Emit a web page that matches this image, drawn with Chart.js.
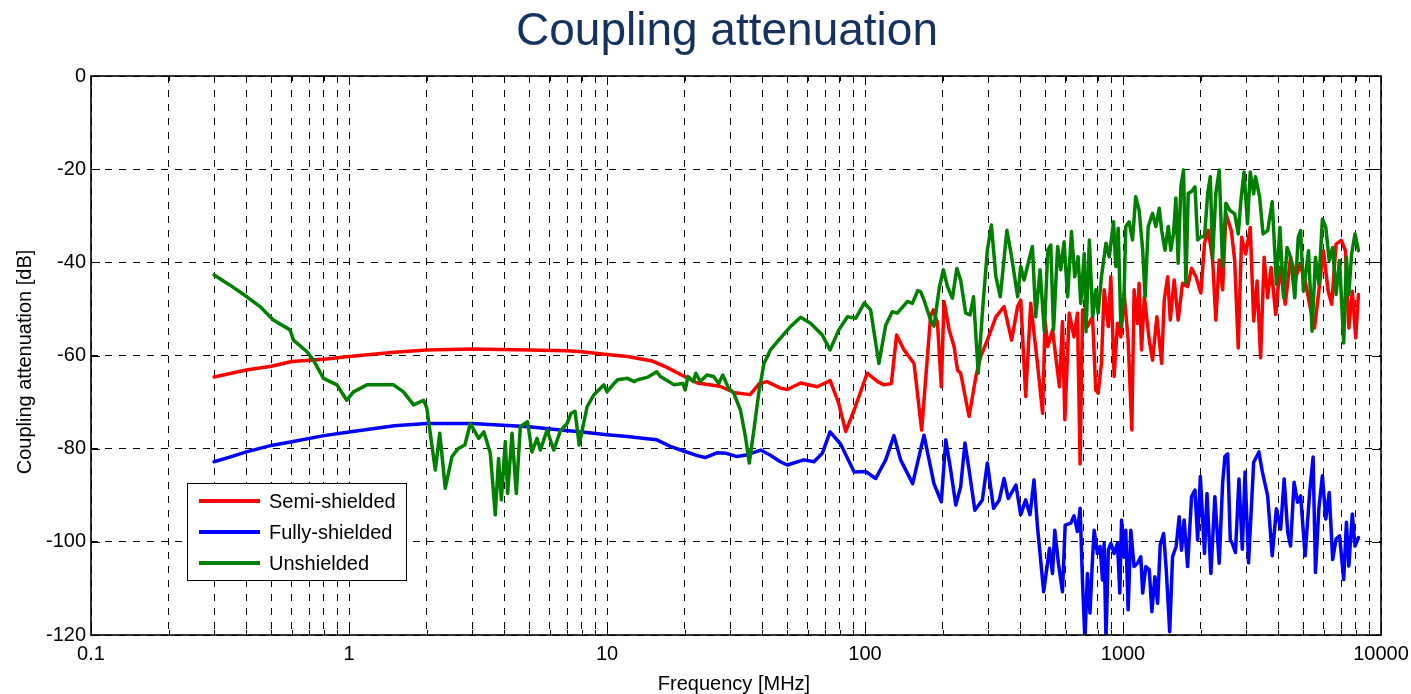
<!DOCTYPE html>
<html>
<head>
<meta charset="utf-8">
<script src="https://cdn.jsdelivr.net/npm/chart.js@4.4.0/dist/chart.umd.min.js"></script>
<style>
html,body{margin:0;padding:0;background:#fff;}
#wrap{width:1411px;height:694px;position:relative;}
</style>
</head>
<body>
<div id="wrap"><canvas id="c" width="1411" height="694"></canvas></div>
<script>
const titleText = 'Coupling attenuation';
const xAxisTitle = 'Frequency [MHz]';
const yAxisTitle = 'Coupling attenuation [dB]';
const seriesNames = ['Semi-shielded', 'Fully-shielded', 'Unshielded'];
const seriesColors = ['#ff0000', '#0000ff', '#008000'];

const xTickValues = [0.1, 1, 10, 100, 1000, 10000];
const xTickLabels = ['0.1', '1', '10', '100', '1000', '10000'];
const yTickValues = [0, -20, -40, -60, -80, -100, -120];
const yTickLabels = ['0', '-20', '-40', '-60', '-80', '-100', '-120'];

// Semi-shielded (red)
const semiFreq = [0.3,0.4,0.5,0.6,0.8,1,1.5,2,3,5, 7,8,10,12,15,17,19.8,22.4,27.4,31.3, 35.9,39,41.7,47,50,56.3,65.3,73.3,79,84.2, 90.8,102,112,118.4,126.5,132.6,141.7,154.9,165.8,179.6, 184,191,197.6,202.4,212,221.5,228.3,234.8,253.2,269, 280.8,298,321.7,346,370,390.5,401.4,419.6,438.9,466, 488,498.8,511,533,567,582.6,595,619,646,666, 682,697,728,762,784,801,825,845,877,897, 924,952,981,1010,1047,1082,1104,1138,1155,1180, 1210,1264,1302,1353,1412,1445,1490,1525,1579,1636, 1701,1780,1844,1918,2004,2070,2141,2225,2290,2360, 2433,2505,2629,2710,2797,2882,2990,3113,3210,3310, 3415,3525,3636,3750,3907,4057,4256,4461,4677,4850, 5081,5318,5523,5742,5980,6242,6439,6697,7017,7280, 7503,7742,7980,8178];
const semiDb = [-64.6,-63.1,-62.3,-61.3,-60.8,-60.2,-59.3,-58.8,-58.6,-58.8, -59.0,-59.2,-59.8,-60.2,-61.2,-62.5,-64.4,-65.9,-66.6,-68.0, -68.4,-66.0,-65.6,-67.0,-67.3,-65.9,-66.7,-65.4,-70.2,-76.3, -71.7,-63.8,-65.6,-66.3,-66.0,-55.6,-58.8,-61.7,-76.0,-51.5, -50.2,-53.0,-66.7,-48.4,-54.5,-58.1,-63.1,-63.8,-73.1,-64.5, -60.2,-56.7,-51.7,-49.5,-56.7,-49.5,-48.1,-68.8,-48.8,-61.7, -72.4,-52.4,-58.1,-54.5,-66.7,-52.7,-73.8,-50.9,-56.0,-50.9, -83.3,-50.2,-53.8,-51.7,-67.4,-68.1,-61.7,-45.9,-53.8,-43.1, -64.5,-53.1,-56.0,-46.6,-56.7,-76.0,-45.9,-53.1,-44.5,-58.8, -47.4,-56.7,-61.0,-51.7,-61.7,-48.1,-43.1,-52.4,-43.8,-52.4, -44.5,-45.2,-41.3,-43.1,-46.6,-35.9,-33.1,-39.5,-52.4,-39.5, -45.9,-29.5,-33.2,-39.6,-58.4,-34.6,-38.2,-32.5,-52.6,-44.0, -60.5,-38.9,-47.6,-41.1,-51.2,-41.1,-49.0,-38.9,-43.3,-40.4, -44.0,-49.7,-54.1,-46.2,-37.5,-46.2,-49.0,-36.1,-35.3,-37.5, -54.1,-46.2,-56.2,-46.9];

// Fully-shielded (blue)
const fullFreq = [0.3,0.35,0.4,0.5,0.6,0.8,1,1.5,2,3, 5,6.6,8,10,12,14,15.6,17.6,19.8,22.4, 24,26.7,29,31.9,35,39.4,43,47,50,57.9, 63.4,68.3,73.2,80.4,90.8,100.5,110,120.3,129.5,137.4, 153,169.3,185,197.6,205.6,214.8,224.9,234.8,244,253.2, 266.6,285,298,315,331.5,346,359,384.6,401.4,419.6, 436,452,466,492.5,519,533,544,562,582.6,597, 627.5,646,666,682,697,712,728,745,759,773, 796,815,833,845,859,877,897,924,952,972, 987,1010,1025,1047,1072,1104,1138,1172,1192,1226, 1264,1294,1329,1362,1394,1437,1471,1517,1556,1607, 1651,1686,1726,1780,1844,1901,1947,1994,2070,2116, 2191,2270,2360,2433,2483,2545,2605,2646,2728,2815, 2900,2972,3066,3210,3364,3468,3636,3788,3932,4083, 4213,4351,4461,4604,4748,4881,5081,5290,5455,5572, 5742,5927,6110,6299,6497,6697,6907,7169,7345,7503, 7742,7930,8178];
const fullDb = [-82.8,-81.7,-80.7,-79.3,-78.5,-77.2,-76.4,-75.1,-74.6,-74.6, -75.3,-76.0,-76.4,-77.0,-77.4,-77.8,-78.1,-79.5,-80.5,-81.5, -81.9,-80.9,-81.0,-81.7,-81.3,-80.3,-81.4,-82.8,-83.5,-82.4, -82.8,-81.0,-76.4,-79.0,-85.0,-84.9,-86.4,-82.4,-77.2,-82.4, -87.5,-77.1,-87.5,-91.4,-78.1,-84.6,-92.1,-88.2,-78.8,-84.6, -93.2,-91.0,-83.1,-92.8,-91.0,-86.4,-90.7,-87.8,-94.2,-91.0, -94.2,-86.7,-96.7,-110.7,-101.4,-106.8,-97.5,-104.6,-110.7,-96.4, -96.0,-94.4,-97.8,-92.8,-108.9,-121,-106.8,-115.3,-105.3,-97.5, -102.5,-101.0,-108.2,-100.3,-121,-101.8,-100.3,-102.5,-100.3,-111.0, -95.3,-103.2,-97.5,-114.6,-97.5,-105.3,-104.6,-103.2,-111.0,-105.3, -106.0,-115.0,-107.5,-113.2,-100.7,-98.2,-106.0,-119.3,-103.2,-101.0, -94.6,-101.8,-95.3,-105.3,-90.3,-88.9,-99.6,-86.0,-102.5,-89.6, -106.8,-90.3,-104.6,-87.4,-81.7,-81.1,-99.6,-100.2,-102.3,-86.5, -101.6,-85.0,-104.5,-82.9,-80.7,-85.0,-90.1,-103.0,-92.9,-97.3, -86.5,-98.0,-100.9,-87.2,-91.5,-90.1,-103.0,-89.4,-81.8,-106.6, -92.9,-85.8,-95.1,-89.4,-103.8,-99.4,-98.7,-108.1,-95.8,-105.2, -94.0,-100.9,-99.1];

// Unshielded (green)
const unshFreq = [0.3,0.346,0.402,0.452,0.509,0.591,0.609,0.687,0.728,0.796, 0.898,0.98,1.041,1.173,1.488,1.627,1.779,1.946,2.003,2.16, 2.248,2.361,2.507,2.659,2.814,2.953,3.18,3.334,3.53,3.689, 3.8,3.894,4.036,4.12,4.284,4.452,4.613,4.92,5.12,5.357, 5.517,5.857,6.214,6.596,7.003,7.26,7.52,7.8,8.373,8.88, 9.29,9.72,10.0,10.65,11.0,12.0,12.75,13.15,14.3,15.6, 16.1,18.2,19.7,20.1,20.6,21.6,22.1,23.0,24.4,25.9, 27.1,28.1,29.6,31.0,32.9,34.4,35.6,37.1,38.8,40.6, 43.0,46.3,51.4,56.3,61.5,68.3,73.2,79.2,85.5,92.1, 99.5,105.1,113.2,120.3,127.6,133.4,146.2,152.6,160,164.3, 169.3,179.6,185.1,194,201.2,208.8,218.2,226.9,234.8,245.6, 255.5,263.4,274.7,285,298,309,321.7,334.5,354.8,370, 390.5,401.4,413.4,426,445.5,459,477,495.6,511,524.8, 538,558,573.8,591,610,631.5,650,670,686,707.5, 719,740.6,763,784.5,800.7,825,859,885,919,938, 958,981,1010,1025,1056,1089,1120,1155,1192,1218, 1252,1302,1341,1382,1412,1454,1498,1532,1570,1603, 1636,1676,1716,1753,1790,1844,1901,1947,2004,2070, 2130,2180,2225,2290,2360,2433,2505,2590,2710,2797, 2865,2945,3038,3113,3210,3262,3385,3490,3636,3788, 3932,4057,4190,4323,4461,4634,4778,4881,5005,5237, 5406,5572,5742,5927,6110,6299,6497,6697,6907,7169, 7345,7503,7693,7930,8178];
const unshDb = [-42.7,-44.9,-47.4,-49.5,-52.4,-54.5,-56.7,-59.2,-61.0,-64.9, -66.3,-69.6,-67.8,-66.3,-66.3,-67.8,-70.6,-69.6,-71.3,-84.6, -76.7,-88.5,-81.7,-79.9,-79.2,-74.6,-77.8,-76.4,-81.0,-94.2, -82.1,-91.0,-78.5,-89.6,-76.7,-89.6,-75.3,-74.2,-80.7,-77.8, -80.3,-76.0,-80.3,-76.2,-74.6,-72.4,-72.0,-79.2,-71.0,-68.5, -67.4,-66.3,-67.8,-66.0,-65.2,-64.9,-65.6,-65.2,-64.7,-63.5, -64.5,-66.3,-66.0,-67.4,-64.5,-65.6,-63.8,-65.6,-64.2,-64.5, -66.0,-64.2,-67.0,-68.1,-71.7,-77.4,-83.1,-76.0,-67.8,-61.7, -58.8,-56.7,-53.8,-51.8,-53.1,-55.6,-58.8,-54.5,-51.7,-52.0, -48.7,-50.2,-61.7,-53.5,-50.6,-50.9,-48.4,-48.8,-46.1,-46.3, -48.1,-52.4,-53.7,-45.5,-41.6,-45.2,-47.7,-41.3,-43.8,-50.9, -51.3,-47.4,-63.8,-50.9,-37.4,-32.0,-43.1,-47.4,-33.1,-38.8, -47.4,-40.9,-43.8,-40.9,-36.6,-51.7,-41.6,-54.9,-37.4,-36.3, -54.5,-36.6,-41.6,-35.6,-47.4,-33.4,-43.1,-38.8,-48.8,-38.1, -54.9,-35.2,-51.7,-45.9,-50.9,-43.1,-35.9,-38.8,-31.3,-40.9, -32.7,-53.8,-46.6,-32.3,-31.3,-35.2,-25.9,-28.8,-37.4,-47.4, -32.3,-29.5,-32.3,-28.4,-33.1,-37.4,-32.3,-37.4,-33.8,-26.2, -40.2,-23.8,-20.2,-44.5,-25.2,-24.8,-23.8,-35.2,-34.5,-34.5, -25.2,-21.6,-39.1,-25.2,-20.2,-40.9,-27.3,-28.8,-29.6,-33.9, -26.7,-20.6,-31.7,-20.6,-25.3,-21.6,-26.0,-33.9,-33.2,-27.0, -44.7,-32.5,-47.6,-36.8,-38.9,-47.6,-34.6,-33.2,-46.2,-37.5, -54.8,-38.9,-44.7,-30.7,-32.5,-39.6,-36.8,-46.9,-39.6,-57.3, -38.9,-46.9,-38.2,-33.9,-37.5];

const FONT = '"Liberation Sans", Arial, Helvetica, sans-serif';

function toPoints(fr, db) {
  const n = Math.min(fr.length, db.length);
  const out = [];
  for (let i = 0; i < n; i++) out.push({x: fr[i], y: db[i]});
  return out;
}

// minor + major grid positions of the log axis (1..9 x 10^k)
function logGridValues(minV, maxV) {
  const vals = [];
  for (let e = Math.round(Math.log10(minV)); e < Math.round(Math.log10(maxV)); e++) {
    for (let m = 1; m < 10; m++) vals.push(parseFloat((m * Math.pow(10, e)).toPrecision(6)));
  }
  vals.push(maxV);
  return vals;
}
const xGridValues = logGridValues(xTickValues[0], xTickValues[xTickValues.length - 1]);
function isMajorX(v) { return xTickValues.some(t => Math.abs(t - v) / t < 1e-6); }

const decor = {
  id: 'decor',
  afterDraw(chart) {
    const {ctx, chartArea: a} = chart;
    const xs = chart.scales.x, ys = chart.scales.y;
    ctx.save();
    ctx.setLineDash([]);
    ctx.strokeStyle = '#000';
    ctx.lineWidth = 1;
    ctx.beginPath();
    ys.ticks.forEach(t => {
      const y = Math.round(ys.getPixelForValue(t.value)) + 0.5;
      ctx.moveTo(a.left, y); ctx.lineTo(a.left + 9, y);
      ctx.moveTo(a.right - 9, y); ctx.lineTo(a.right, y);
    });
    xs.ticks.forEach(t => {
      const x = Math.round(xs.getPixelForValue(t.value)) + 0.5;
      const len = isMajorX(t.value) ? 9 : 5;
      ctx.moveTo(x, a.bottom); ctx.lineTo(x, a.bottom - len);
      ctx.moveTo(x, a.top); ctx.lineTo(x, a.top + len);
    });
    ctx.stroke();
    // frame
    ctx.lineWidth = 1.6;
    ctx.strokeRect(a.left, a.top, a.right - a.left, a.bottom - a.top);

    // main title
    ctx.fillStyle = '#13325f';
    ctx.font = '46px ' + FONT;
    ctx.textAlign = 'center';
    ctx.textBaseline = 'alphabetic';
    ctx.fillText(titleText, 727, 45);

    // axis titles
    ctx.fillStyle = '#000';
    ctx.font = '20px ' + FONT;
    ctx.fillText(xAxisTitle, 734, 690);
    ctx.save();
    ctx.translate(25, 362);
    ctx.rotate(-Math.PI / 2);
    ctx.textBaseline = 'middle';
    ctx.fillText(yAxisTitle, 0, 0);
    ctx.restore();

    // legend
    const lx = 187.5, ly = 483.5, lw = 219, lh = 97;
    ctx.fillStyle = '#fff';
    ctx.fillRect(lx, ly, lw, lh);
    ctx.lineWidth = 1;
    ctx.strokeStyle = '#000';
    ctx.strokeRect(lx, ly, lw, lh);
    const rows = [501, 532, 563];
    chart.data.datasets.forEach((ds, i) => {
      ctx.beginPath();
      ctx.strokeStyle = ds.borderColor;
      ctx.lineWidth = 4;
      ctx.moveTo(199, rows[i]); ctx.lineTo(260, rows[i]);
      ctx.stroke();
      ctx.fillStyle = '#000';
      ctx.font = '20px ' + FONT;
      ctx.textAlign = 'left';
      ctx.textBaseline = 'middle';
      ctx.fillText(ds.label, 269, rows[i] + 1);
    });
    ctx.restore();
  }
};

const seriesFreq = [semiFreq, fullFreq, unshFreq];
const seriesDb = [semiDb, fullDb, unshDb];
const datasets = seriesNames.map((name, i) => ({
  label: name,
  data: toPoints(seriesFreq[i], seriesDb[i]),
  borderColor: seriesColors[i],
  backgroundColor: seriesColors[i],
  borderWidth: 3.5,
  borderJoinStyle: 'round',
  borderCapStyle: 'round',
  pointRadius: 0,
  tension: 0,
  fill: false,
  clip: 0,
  order: 2 - i
}));

new Chart(document.getElementById('c'), {
  type: 'line',
  data: {datasets},
  options: {
    responsive: false,
    animation: false,
    devicePixelRatio: 1,
    layout: {padding: {left: 0, right: 30, top: 76, bottom: 0}},
    plugins: {legend: {display: false}, title: {display: false}, tooltip: {enabled: false}},
    scales: {
      x: {
        type: 'logarithmic',
        position: 'bottom',
        min: xTickValues[0],
        max: xTickValues[xTickValues.length - 1],
        afterBuildTicks: s => { s.ticks = xGridValues.map(v => ({value: v, major: isMajorX(v)})); },
        afterFit: s => { s.height = 59; },
        ticks: {
          autoSkip: false, maxRotation: 0, minRotation: 0, padding: 1,
          color: '#000', font: {family: FONT, size: 20, lineHeight: 1.8},
          callback: v => { const i = xTickValues.findIndex(t => Math.abs(t - v) / t < 1e-6); return i >= 0 ? xTickLabels[i] : ''; }
        },
        grid: {color: '#000', lineWidth: 1, drawTicks: false, tickLength: 0},
        border: {display: false, dash: [7, 7]}
      },
      y: {
        type: 'linear',
        min: yTickValues[yTickValues.length - 1],
        max: yTickValues[0],
        afterBuildTicks: s => { s.ticks = yTickValues.map(v => ({value: v})); },
        afterFit: s => { s.width = 91; },
        ticks: {
          padding: 5, color: '#000', font: {family: FONT, size: 20},
          callback: v => { const i = yTickValues.indexOf(v); return i >= 0 ? yTickLabels[i] : ''; }
        },
        grid: {color: '#000', lineWidth: 1, drawTicks: false, tickLength: 0},
        border: {display: false, dash: [7, 7]}
      }
    }
  },
  plugins: [decor]
});
</script>
</body>
</html>
